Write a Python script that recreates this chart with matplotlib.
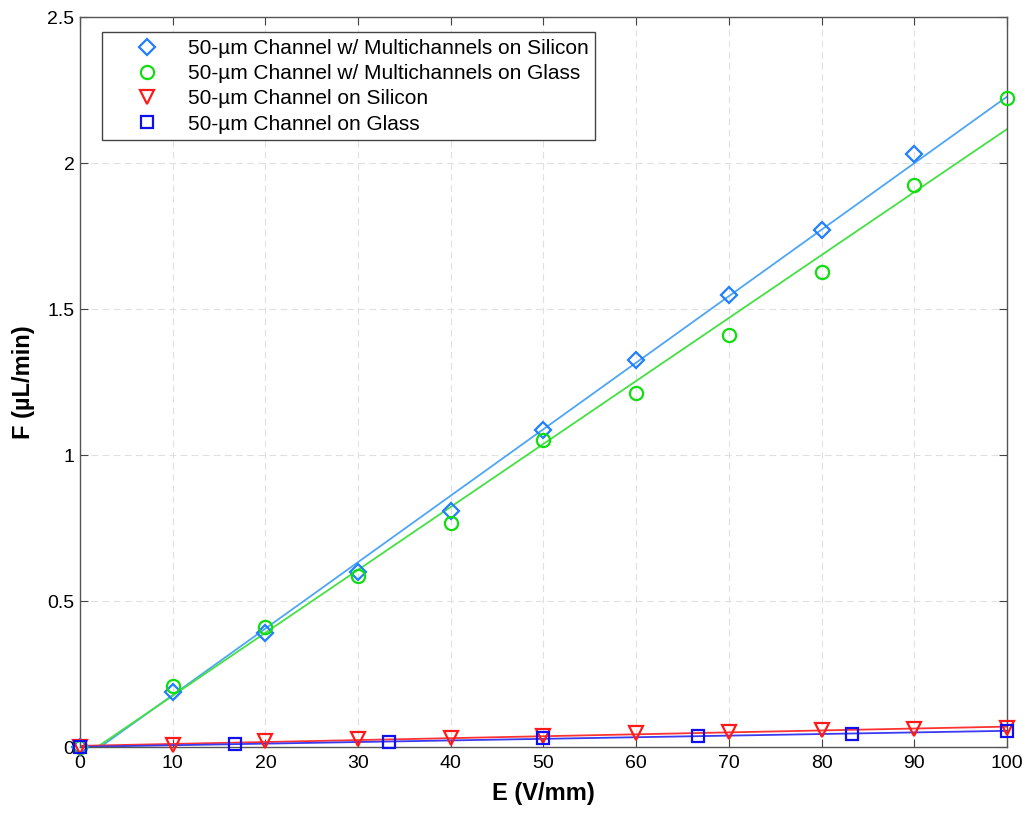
import numpy as np
import matplotlib
matplotlib.use("Agg")
from matplotlib import pyplot as plt

plt.rcParams['font.family'] = ['Liberation Sans', 'DejaVu Sans']

# data
e_si_multi = [0, 10, 20, 30, 40, 50, 60, 70, 80, 90]
f_si_multi = [0, 0.19, 0.39, 0.60, 0.81, 1.085, 1.325, 1.548, 1.77, 2.03]

e_gl_multi = [0, 10, 20, 30, 40, 50, 60, 70, 80, 90, 100]
f_gl_multi = [0, 0.21, 0.41, 0.585, 0.767, 1.05, 1.213, 1.41, 1.627, 1.925, 2.222]

e_si = [0, 10, 20, 30, 40, 50, 60, 70, 80, 90, 100]
f_si = [0, 0.008, 0.02, 0.026, 0.03, 0.038, 0.047, 0.052, 0.058, 0.061, 0.066]

e_gl = [0, 16.7, 33.3, 50, 66.7, 83.3, 100]
f_gl = [0, 0.01, 0.018, 0.03, 0.037, 0.046, 0.055]

labels = ['50-µm Channel w/ Multichannels on Silicon',
          '50-µm Channel w/ Multichannels on Glass',
          '50-µm Channel on Silicon',
          '50-µm Channel on Glass']

# x, y, marker, size, marker colour, fit line colour
series = [
    (e_si_multi, f_si_multi, 'D', 8.5, '#1f7fff', '#4da6f5'),
    (e_gl_multi, f_gl_multi, 'o', 9.5, '#11dd11', '#44e044'),
    (e_si, f_si, 'v', 10, '#ff1a1a', '#ff3333'),
    (e_gl, f_gl, 's', 8, '#1010ee', '#3a3af0'),
]

fig = plt.figure(figsize=(10.31, 8.14), dpi=100)
ax = fig.add_axes([0.0776, 0.0823, 0.899, 0.8967])

xfit = np.linspace(0, 100, 200)
handles = []
for (x, y, m, ms, mc, lc), lbl in zip(series, labels):
    p = np.polyfit(x, y, 1)
    ax.plot(xfit, np.polyval(p, xfit), color=lc, lw=1.3, zorder=2)
    h, = ax.plot(x, y, ls='none', marker=m, ms=ms, mfc='none', mec=mc,
                 mew=1.6, label=lbl, zorder=3, clip_on=False)
    handles.append(h)

ax.set_xlim(0, 100)
ax.set_ylim(0, 2.5)
ax.set_xticks(np.arange(0, 101, 10))
ax.set_yticks([0, 0.5, 1, 1.5, 2, 2.5])
ax.set_yticklabels(['0', '0.5', '1', '1.5', '2', '2.5'])
ax.grid(True, color='#e0e0e0', ls=(0, (6, 4)), lw=0.8)
ax.set_axisbelow(True)
ax.tick_params(direction='in', top=True, right=True, length=6,
               labelsize=14, color='#444444')
ax.tick_params(axis='x', pad=6)
ax.tick_params(axis='y', pad=4)
for s in ax.spines.values():
    s.set_color('#555555')
    s.set_linewidth(1.0)

ax.set_xlabel('E (V/mm)', fontsize=17, fontweight='bold', labelpad=7)
ax.set_ylabel('F (µL/min)', fontsize=17, fontweight='bold', labelpad=9)

leg = ax.legend(handles=handles, loc='upper left', bbox_to_anchor=(0.0237, 0.979),
                borderaxespad=0, fontsize=15, handlelength=3.75, handletextpad=0.05,
                labelspacing=0.3, borderpad=0.31, fancybox=False,
                framealpha=1, edgecolor='#444444')
leg.get_frame().set_linewidth(1.0)

plt.savefig('out.png', dpi=100)
